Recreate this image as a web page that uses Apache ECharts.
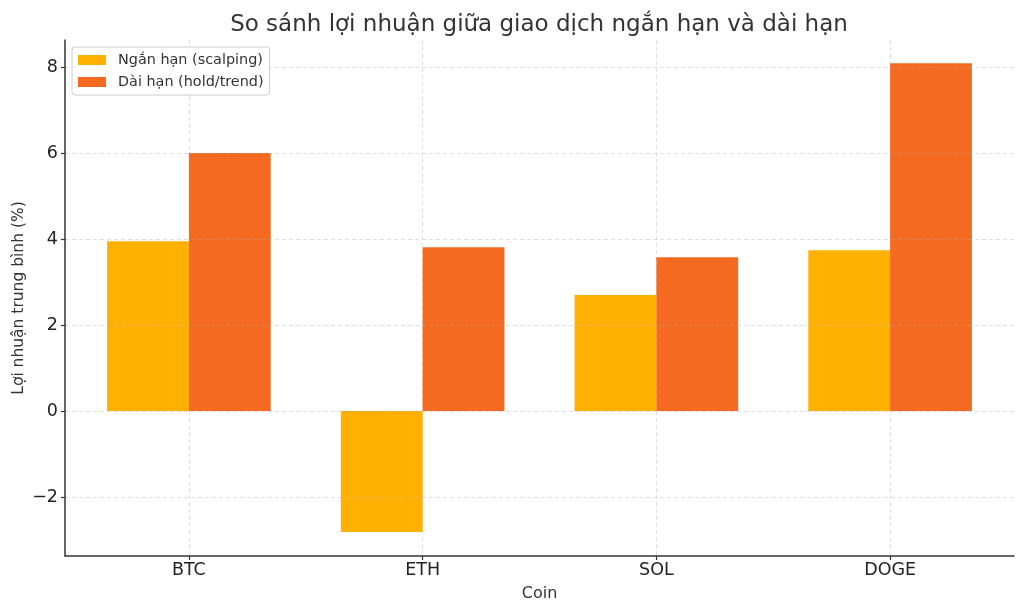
<!DOCTYPE html>
<html><head><meta charset="utf-8">
<script src="https://cdn.jsdelivr.net/npm/echarts@6/dist/echarts.min.js"></script>
<style>html,body{margin:0;padding:0;background:#fff}#c{width:1024px;height:611px}</style>
</head><body><div id="c"></div>
<script>
const categories = ['BTC', 'ETH', 'SOL', 'DOGE'];
const shortTerm = [3.95, -2.81, 2.70, 3.74];
const longTerm = [6.00, 3.81, 3.58, 8.09];
const yTicks = [-2, 0, 2, 4, 6, 8];
const seriesNames = ['Ngắn hạn (scalping)', 'Dài hạn (hold/trend)'];

const font = 'DejaVu Sans';
const chart = echarts.init(document.getElementById('c'));
const catIdx = categories.map((_, i) => i);
chart.setOption({
  animation: false,
  textStyle: { fontFamily: font },
  title: {
    text: 'So sánh lợi nhuận giữa giao dịch ngắn hạn và dài hạn',
    left: 534, top: 9, textAlign: 'center',
    textStyle: { fontFamily: font, fontSize: 23, fontWeight: 'normal', color: '#333' }
  },
  legend: {
    left: 72, top: 47, orient: 'vertical',
    itemWidth: 28, itemHeight: 10, itemGap: 8,
    padding: [6, 6, 6, 6],
    borderColor: '#ccc', borderWidth: 1, borderRadius: 3,
    backgroundColor: 'rgba(255,255,255,0.8)',
    icon: 'rect',
    textStyle: { fontFamily: font, fontSize: 14.4, color: '#333', padding: [0, 0, 0, 7] },
    data: seriesNames
  },
  grid: { left: 65, right: 10, top: 40, bottom: 55, containLabel: false, outerBoundsMode: 'none' },
  xAxis: {
    type: 'value', min: -0.53, max: 3.53,
    name: 'Coin', nameLocation: 'middle', nameGap: 30, nameMoveOverlap: false,
    nameTextStyle: { fontFamily: font, fontSize: 16, color: '#333' },
    axisLine: { show: true, onZero: false, lineStyle: { color: '#333', width: 1.5 } },
    axisTick: { show: true, inside: false, customValues: catIdx, length: 4, lineStyle: { color: '#333', width: 1.2 } },
    axisLabel: { customValues: catIdx, formatter: v => categories[Math.round(v)] || '', fontSize: 17.5, color: '#222', margin: 5 },
    splitLine: { show: true, lineStyle: { color: 'rgba(176,176,176,0.5)', type: [4, 3], width: 0.8 } }
  },
  yAxis: {
    type: 'value', min: -3.37, max: 8.63,
    z: 3,
    name: 'Lợi nhuận trung bình (%)', nameLocation: 'middle', nameGap: 38, nameMoveOverlap: false,
    nameTextStyle: { fontFamily: font, fontSize: 15.5, color: '#333' },
    axisLine: { show: true, onZero: false, lineStyle: { color: '#333', width: 1.5 } },
    axisTick: { show: true, inside: false, customValues: yTicks, length: 4, lineStyle: { color: '#333', width: 1.2 } },
    axisLabel: { customValues: yTicks, formatter: v => v < 0 ? '\u2212' + Math.abs(v) : String(v), fontSize: 17.5, color: '#222', margin: 7 },
    splitLine: { show: true, lineStyle: { color: 'rgba(176,176,176,0.5)', type: [4, 3], width: 0.8 } }
  },
  series: [
    { name: seriesNames[0], type: 'bar', barWidth: '35%', barGap: '0%',
      itemStyle: { color: '#FFB000' }, data: shortTerm.map((v, i) => [i, v]) },
    { name: seriesNames[1], type: 'bar', barWidth: '35%', barGap: '0%',
      itemStyle: { color: '#F46A21' }, data: longTerm.map((v, i) => [i, v]) }
  ]
});
</script></body></html>
